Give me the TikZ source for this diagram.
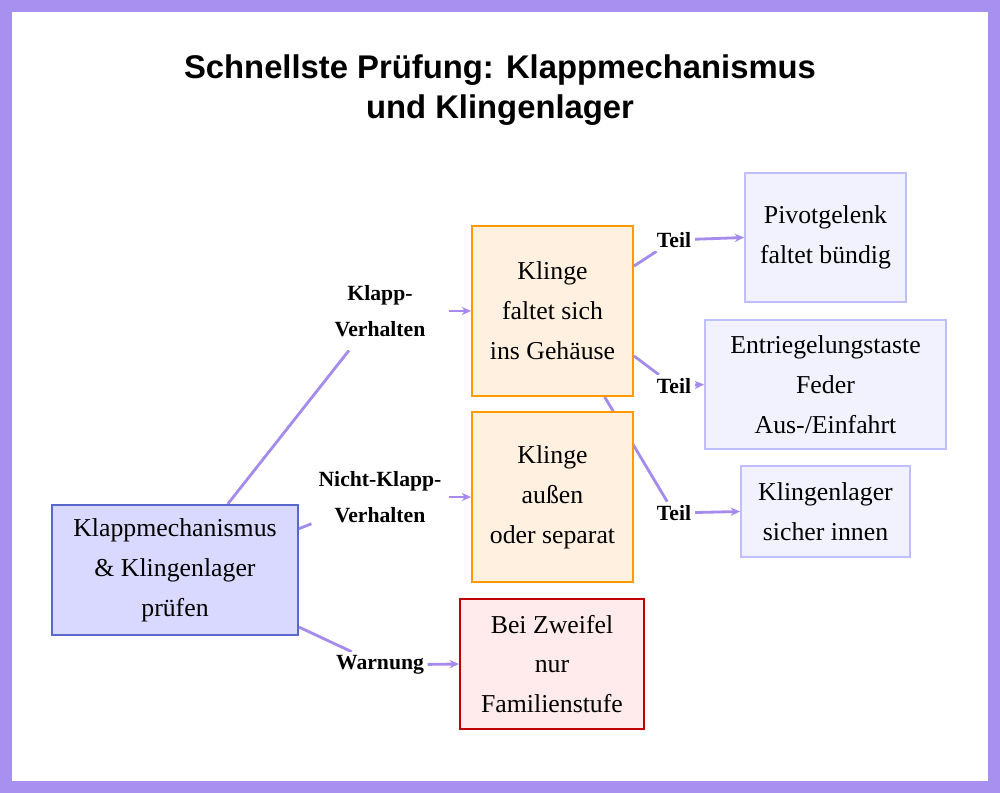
\documentclass[tikz,border=0pt]{standalone}
\usepackage{fontspec}
\setmainfont{Liberation Serif}
\newfontfamily\titlefont{Liberation Sans}
\usetikzlibrary{arrows.meta,backgrounds}
\definecolor{frame}{HTML}{A890F0}
\definecolor{edge}{HTML}{A48BEC}
\definecolor{mainb}{HTML}{5868CC}
\begin{document}
\begin{tikzpicture}[x=0.03cm,y=-0.03cm,
  box/.style={draw,line width=1.6pt,align=center,font=\fontsize{22}{34}\selectfont,inner sep=0pt},
  main/.style={box,fill=blue!15!white,draw=mainb},
  orange/.style={box,fill=orange!12!white,draw=orange!80!yellow},
  red/.style={box,fill=red!8!white,draw=red!75!black},
  light/.style={box,fill=blue!5!white,draw=blue!25!white},
  lbl/.style={fill=white,align=center,font=\bfseries\fontsize{18.5}{31}\selectfont,inner sep=3pt},
  conn/.style={draw=edge,line width=2.4pt},
  arr/.style={conn,-{Stealth[length=8pt,width=7pt]}}]
\useasboundingbox (0,0) rectangle (1000,793);
\node[font=\titlefont\bfseries\fontsize{28}{34}\selectfont,align=center] (title) at (500,90) {Schnellste Prüfung: Klappmechanismus\\und Klingenlager};
\node[main,minimum width=7.38cm,minimum height=3.9cm] (m) at (175,570) {Klappmechanismus\\\& Klingenlager\\prüfen};
\node[orange,minimum width=4.83cm,minimum height=5.1cm] (a) at (552.5,311) {Klinge\\faltet sich\\ins Gehäuse};
\node[orange,minimum width=4.83cm,minimum height=5.1cm] (b) at (552.5,497) {Klinge\\außen\\oder separat};
\node[red,minimum width=5.52cm,minimum height=3.9cm] (c) at (552,664) {Bei Zweifel\\nur\\Familienstufe};
\node[light,minimum width=4.83cm,minimum height=3.87cm] (p) at (825.5,237.5) {Pivotgelenk\\faltet bündig};
\node[light,minimum width=7.23cm,minimum height=3.87cm] (e) at (825.5,384.5) {Entriegelungstaste\\Feder\\Aus-/Einfahrt};
\node[light,minimum width=5.07cm,minimum height=2.73cm] (k) at (825.5,511.5) {Klingenlager\\sicher innen};
\node[lbl,minimum width=4.1cm,minimum height=2.35cm] (l1) at (380,311) {Klapp-\\Verhalten};
\node[lbl,minimum width=4.1cm,minimum height=2.35cm] (l2) at (380,497) {Nicht-Klapp-\\Verhalten};
\node[lbl] (l3) at (380,665) {Warnung};
\node[lbl] (t1) at (674,240) {Teil};
\node[lbl] (t2) at (674,386) {Teil};
\node[lbl] (t3) at (674,513) {Teil};
\begin{scope}[on background layer]
\fill[frame] (0,0) rectangle (1000,793);
\fill[white] (12,12) rectangle (988,781);
\draw[conn] ([xshift=45pt]m.north) -- (l1);
\draw[arr] (l1) -- (a.west);
\draw[conn] ([yshift=-21pt]m.north east) -- (l2);
\draw[arr] (l2) -- (b.west);
\draw[conn] ([yshift=-105pt]m.north east) -- (l3);
\draw[arr] (l3) -- (c.west);
\draw[conn] ([yshift=-35pt]a.north east) -- (t1);
\draw[arr] (t1) -- (p.west);
\draw[conn] ([yshift=35pt]a.south east) -- (t2);
\draw[arr] (t2) -- (e.west);
\draw[conn] ([xshift=-25pt]a.south east) -- (t3);
\draw[arr] (t3) -- (k.west);
\end{scope}
\end{tikzpicture}
\end{document}
